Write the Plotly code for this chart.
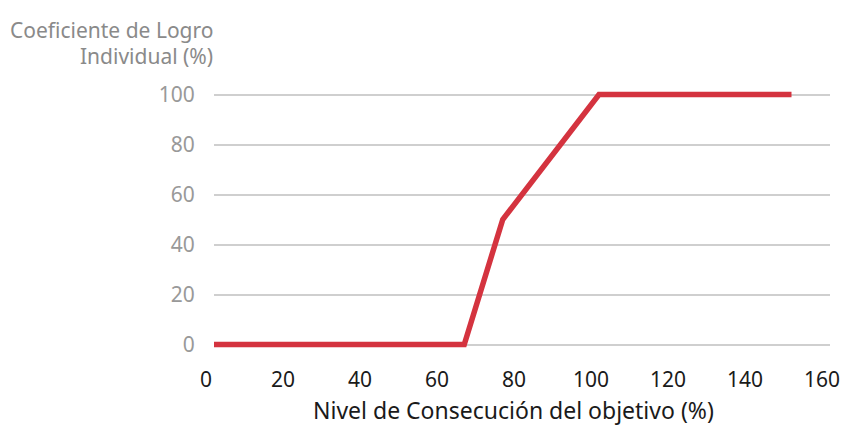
import plotly.graph_objects as go

x_vals = [0, 65, 75, 100, 150]
y_vals = [0, 0, 50, 100, 100]
x_ticks = [0, 20, 40, 60, 80, 100, 120, 140, 160]
y_ticks = [0, 20, 40, 60, 80, 100]
y_title_lines = ["Coeficiente de Logro", "Individual (%)"]
x_title = "Nivel de Consecución del objetivo (%)"

FONT = "Noto Sans"

fig = go.Figure()
fig.add_trace(go.Scatter(
    x=x_vals, y=y_vals, mode="lines",
    line=dict(color="#d4333f", width=5.5),
    hoverinfo="skip", showlegend=False,
))

fig.update_layout(
    width=842, height=434,
    margin=dict(l=206, r=20, t=78.5, b=89.5, autoexpand=False),
    paper_bgcolor="white", plot_bgcolor="white",
    font=dict(family=FONT, size=21),
    xaxis=dict(
        range=[0, 160], tickvals=x_ticks, showgrid=False, zeroline=False,
        showline=False, ticks="outside", ticklen=9, tickcolor="rgba(0,0,0,0)",
        ticklabeloverflow="allow", ticklabelshift=-8,
        tickfont=dict(family=FONT, size=21, color="#1a1a1a"),
    ),
    yaxis=dict(
        range=[-3, 103], tickvals=y_ticks, showgrid=True, gridcolor="#cfcfcf",
        gridwidth=1.5, zeroline=False, showline=False,
        ticks="outside", ticklen=14, tickcolor="rgba(0,0,0,0)",
        tickfont=dict(family=FONT, size=21, color="#999999"),
    ),
    annotations=[
        dict(text=y_title_lines[0], xref="paper", yref="paper", x=0.002, y=1.0,
             xanchor="right", yanchor="middle", yshift=57.5, align="right",
             showarrow=False, font=dict(family=FONT, size=21, color="#8a8a8a")),
        dict(text=y_title_lines[1], xref="paper", yref="paper", x=0.002, y=1.0,
             xanchor="right", yanchor="middle", yshift=31.5, align="right",
             showarrow=False, font=dict(family=FONT, size=21, color="#8a8a8a")),
        dict(text=x_title, xref="paper", yref="paper", x=0.487, y=0,
             xanchor="center", yanchor="middle", yshift=-57.5,
             showarrow=False, font=dict(family=FONT, size=23, color="#1a1a1a")),
    ],
)

fig.write_html("out.html")
